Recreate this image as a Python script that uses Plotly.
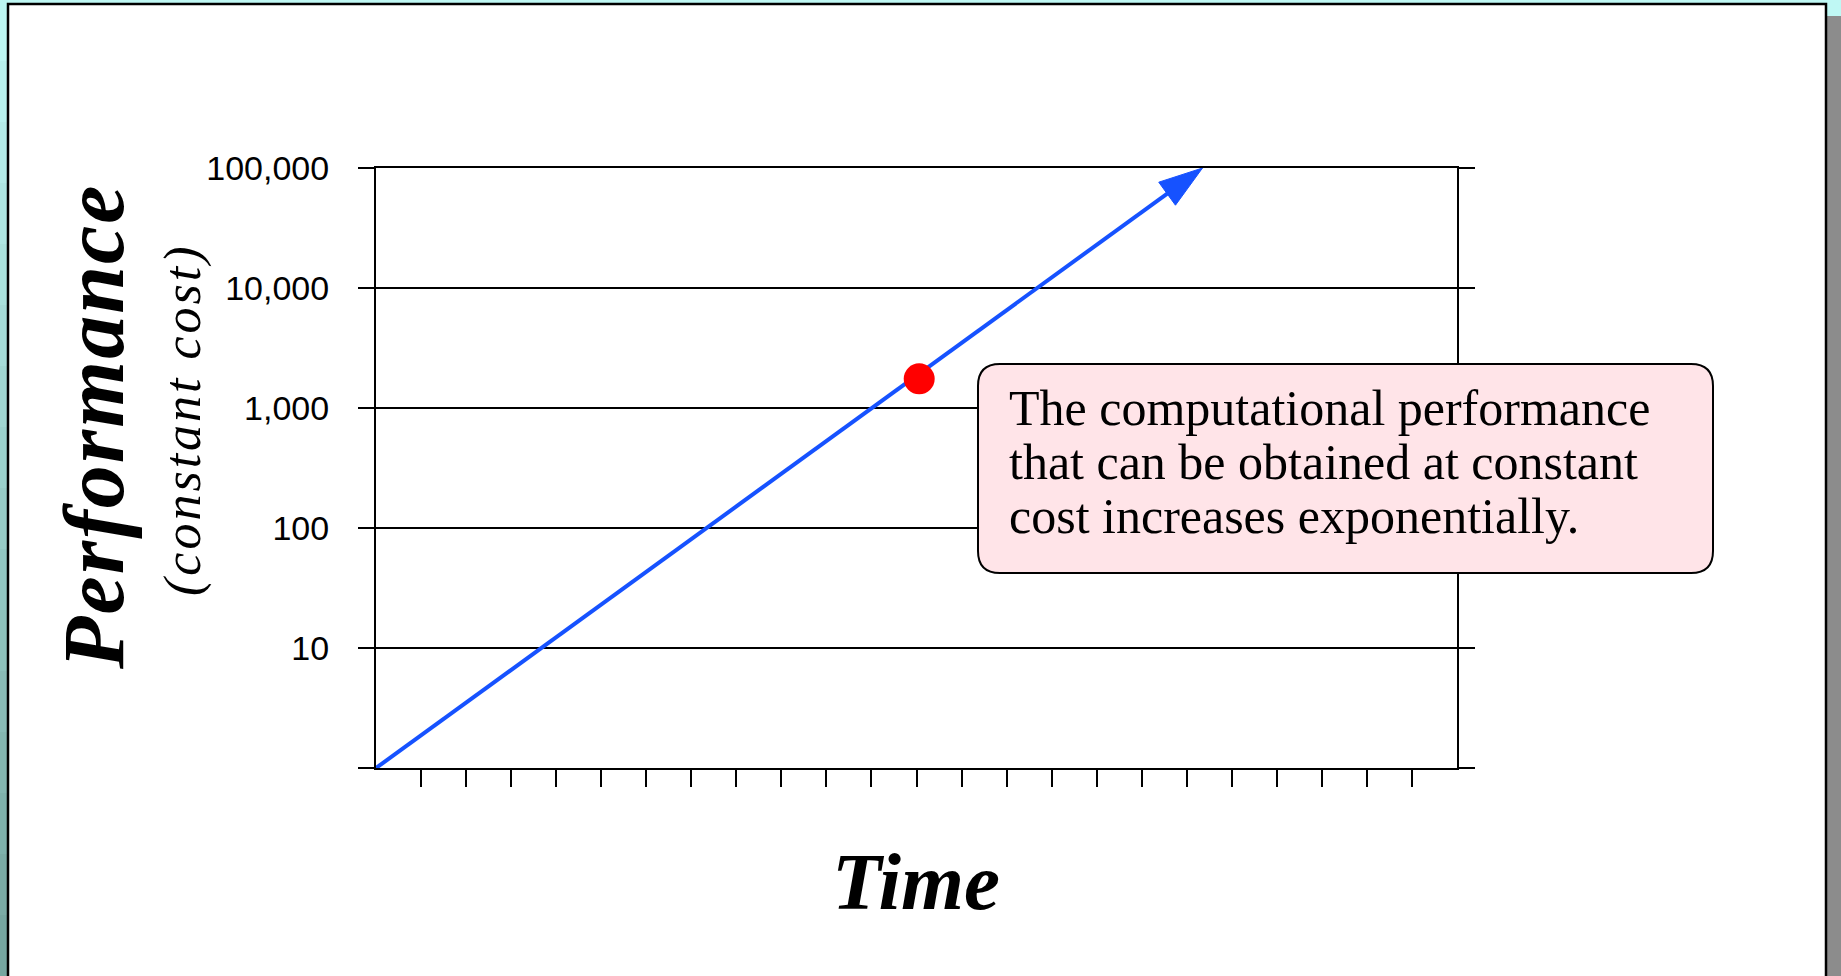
import plotly.graph_objects as go

# ---- data ----
trend_time = [0, 18.35]
trend_perf = [1, 100000]
point_time = [12.06]
point_perf = [1750]

y_tickvals = [1, 10, 100, 1000, 10000, 100000]
y_ticktext = ["", "10", "100", "1,000", "10,000", "100,000"]
x_tickvals = list(range(1, 24))

note_lines = [
    "The computational performance",
    "that can be obtained at constant",
    "cost increases exponentially.",
]

BLUE = "#1652FF"
RED = "#FF0000"
SERIF = "Liberation Serif"
SANS = "Liberation Sans, Arial, sans-serif"

# page geometry (pixels) and plot area
W, H = 1841, 976
L, R, T, B = 376, 1457, 168, 768


def px(x):
    return (x - L) / (R - L)


def py(y):
    return (B - y) / (B - T)


shapes = []

# teal strip on the left, shaded top to bottom
n = 16
top_c, bot_c = (188, 246, 242), (118, 166, 160)
for i in range(n):
    t = i / (n - 1)
    c = tuple(round(a + (b - a) * t) for a, b in zip(top_c, bot_c))
    shapes.append(dict(type="rect", xref="paper", yref="paper",
                       x0=px(0), x1=px(8), y0=py(i * H / n), y1=py((i + 1) * H / n + 1),
                       fillcolor="rgb(%d,%d,%d)" % c, line_width=0, layer="below"))
# grey shadow on the right
shapes.append(dict(type="rect", xref="paper", yref="paper",
                   x0=px(1827), x1=px(1845), y0=py(16), y1=py(1000),
                   fillcolor="#8C8C8C", line_width=0, layer="below"))
# white slide
shapes.append(dict(type="rect", xref="paper", yref="paper",
                   x0=px(8), x1=px(1826), y0=py(4), y1=py(1000),
                   fillcolor="white", line=dict(color="black", width=2.5), layer="below"))

# rounded note box
bx0, bx1, by0, by1, rr = 978, 1713, 364, 573, 22
pts = [
    ("M", bx0 + rr, by0), ("L", bx1 - rr, by0), ("Q", bx1, by0, bx1, by0 + rr),
    ("L", bx1, by1 - rr), ("Q", bx1, by1, bx1 - rr, by1), ("L", bx0 + rr, by1),
    ("Q", bx0, by1, bx0, by1 - rr), ("L", bx0, by0 + rr), ("Q", bx0, by0, bx0 + rr, by0),
]
path = ""
for p in pts:
    cmd, coords = p[0], p[1:]
    path += cmd + " ".join("%.5f,%.5f" % (px(coords[k]), py(coords[k + 1]))
                           for k in range(0, len(coords), 2)) + " "
path += "Z"
shapes.append(dict(type="path", xref="paper", yref="paper", path=path,
                   fillcolor="#FFE4E8", line=dict(color="black", width=2), layer="above"))

fig = go.Figure()

fig.add_trace(go.Scatter(
    x=trend_time, y=trend_perf, mode="lines+markers",
    line=dict(color=BLUE, width=4),
    marker=dict(symbol="arrow", size=[0, 46], angleref="previous", color=BLUE,
                opacity=1, line=dict(color=BLUE, width=1)),
    cliponaxis=False, hoverinfo="skip",
))
fig.add_trace(go.Scatter(
    x=point_time, y=point_perf, mode="markers",
    marker=dict(color=RED, size=31, line_width=0),
    cliponaxis=False, hoverinfo="skip",
))

annotations = [
    dict(text="<span style='letter-spacing:2px'>Performance</span>",
         x=px(94), y=py(427), textangle=-90,
         font=dict(family=SERIF, size=86, color="black", weight="bold", style="italic")),
    dict(text="<span style='letter-spacing:3px'>(constant cost)</span>",
         x=px(183), y=py(420), textangle=-90,
         font=dict(family=SERIF, size=52, color="black", style="italic")),
    dict(text="Time", x=px(916), y=py(882),
         font=dict(family=SERIF, size=81, color="black", weight="bold", style="italic")),
]
for i, line in enumerate(note_lines):
    annotations.append(dict(text=line, x=px(1007), y=py(408 + 54 * i),
                            xanchor="left", yanchor="middle",
                            font=dict(family=SERIF, size=50, color="black")))
for a in annotations:
    a.update(xref="paper", yref="paper", showarrow=False)
    a.setdefault("xanchor", "center")
    a.setdefault("yanchor", "middle")

fig.update_layout(
    width=W, height=H,
    margin=dict(l=L, r=W - R, t=T, b=H - B, pad=0),
    paper_bgcolor="#BFF8F4",
    plot_bgcolor="white",
    showlegend=False,
    shapes=shapes,
    annotations=annotations,
)

fig.update_xaxes(
    range=[0, 24], showgrid=False, zeroline=False,
    showline=True, linecolor="black", linewidth=2, mirror=True,
    ticks="outside", tickvals=x_tickvals, ticklen=17, tickwidth=2, tickcolor="black",
    showticklabels=False, automargin=False, fixedrange=True,
)
fig.update_yaxes(
    type="log", range=[0, 5],
    showgrid=True, gridcolor="black", gridwidth=2,
    showline=True, linecolor="black", linewidth=2, mirror="ticks",
    ticks="outside", tickvals=y_tickvals, ticktext=y_ticktext,
    ticklen=16, tickwidth=2, tickcolor="black",
    tickfont=dict(family=SANS, size=34, color="black"),
    ticklabelstandoff=22, automargin=False, fixedrange=True,
)

fig.write_html("out.html", config={"displayModeBar": False},
               post_script="document.body.style.margin='0';document.body.style.overflow='hidden';")
